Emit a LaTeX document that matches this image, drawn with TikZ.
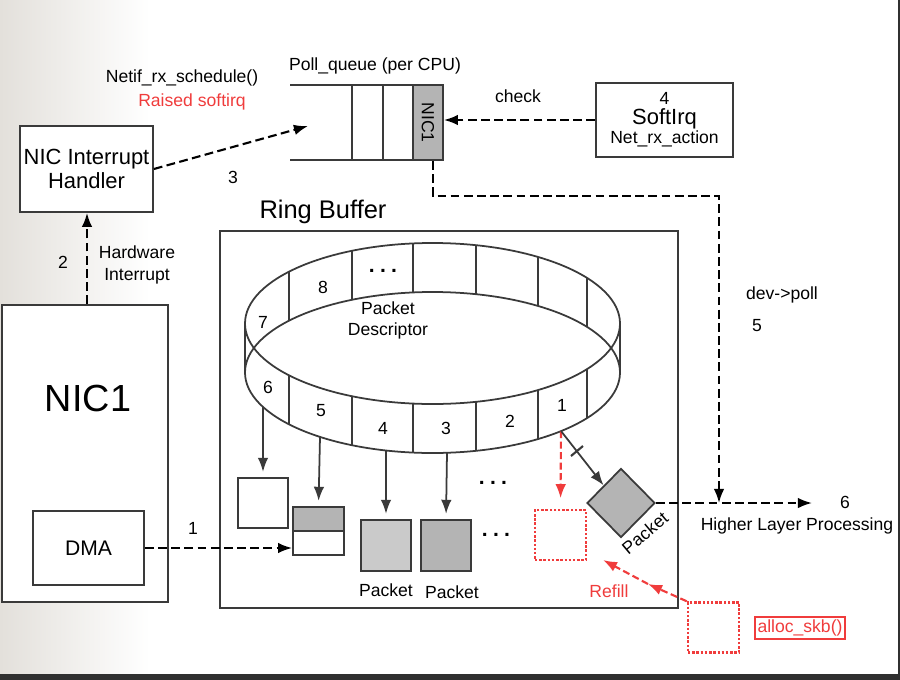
\documentclass[tikz,border=0pt]{standalone}
\usepackage{fontspec}
\setmainfont{Liberation Sans}
\usetikzlibrary{arrows.meta,shapes.geometric,positioning}
\definecolor{linegray}{HTML}{3A3A3A}
\definecolor{refillred}{HTML}{F03C3C}
\definecolor{pktgray}{HTML}{B4B4B4}
\definecolor{pktlight}{HTML}{CACACA}
\definecolor{bgside}{HTML}{E3E0DB}
\definecolor{darkstrip}{HTML}{303030}

\begin{document}
\begin{tikzpicture}
[   x=0.02cm, y=-0.02cm,
    box/.style={draw=linegray,line width=1pt,fill=white,inner sep=0pt,align=center},
    redbox/.style={draw=refillred,line width=1.4pt,densely dotted,minimum width=1.02cm,minimum height=1cm,inner sep=0pt},
    txt/.style={font=\fontsize{10}{12.5}\selectfont,inner sep=1pt,align=center},
    bigtxt/.style={font=\fontsize{12.5}{13.6}\selectfont,inner sep=1pt,align=center},
    dots/.style={font=\fontsize{12}{12}\bfseries,inner sep=0pt},
    dasharrow/.style={draw=black,line width=1.2pt,dash pattern=on 5pt off 2.5pt,-{Latex[length=8pt,width=6pt]}},
    solidarrow/.style={draw=linegray,line width=1pt,-{Latex[length=8pt,width=6pt]},shorten >=3pt},
    redarrow/.style={draw=refillred,line width=1.2pt,dash pattern=on 4pt off 2pt,-{Latex[length=8pt,width=6pt]}},
]
\useasboundingbox (0,0) rectangle (900,680);
\fill[white] (0,0) rectangle (900,680);
\shade[left color=bgside,right color=white] (0,0) rectangle (150,674);
\fill[darkstrip] (0,674) rectangle (900,680);
\fill[darkstrip] (898,0) rectangle (900,674);

\node[box, minimum width=2.66cm, minimum height=1.72cm, bigtxt] (handler) at (86.5,169) {NIC Interrupt\\Handler};
\node[box, minimum width=3.32cm, minimum height=5.94cm] (nic) at (85,453.5) {};
\node[font=\fontsize{21.5}{24}\selectfont] (nictext) at (88,398) {NIC1};
\node[box, minimum width=2.22cm, minimum height=1.48cm, font=\fontsize{12}{14}\selectfont] (dma) at (88.5,548) {DMA};
\node[box, minimum width=2.74cm, minimum height=1.48cm] (soft) at (664.5,120)
    {\fontsize{10}{12}\selectfont 4\\[-1pt]\fontsize{12.5}{14}\selectfont SoftIrq\\[-1pt]\fontsize{10}{12}\selectfont Net\_rx\_action};

\node[txt] (sched) at (182,78) {Netif\_rx\_schedule()};
\node[txt, text=refillred] (raised) at (192,102) {Raised softirq};
\node[txt] (pollq) at (375,66) {Poll\_queue (per CPU)};
\node[txt] (check) at (518,96) {check};

\draw[linegray, line width=1pt] (290,85) -- (443,85) (290,160) -- (443,160);
\foreach \qx in {352,383} {
  \draw[linegray, line width=1pt] (\qx,85) -- (\qx,160);
}
\node[box, fill=pktgray, minimum width=0.6cm, minimum height=1.5cm, font=\fontsize{10}{12}\selectfont] (nicq) at (428,122.5) {\rotatebox{-90}{NIC1}};
\coordinate (q3) at (308,126);

\draw[dasharrow] (handler.east) -- (q3);
\node[txt] (n3) at (233,177) {3};
\draw[dasharrow] (soft.west) -- (soft.west -| nicq.east);

\draw[dasharrow] (nic.north -| 87,0) -- (handler.south -| 87,0);
\node[txt] (n2) at (63,262) {2};
\node[txt] (hwint) at (137,265) {Hardware\\Interrupt};

\node[box, fill=none, minimum width=9.16cm, minimum height=7.54cm] (ring) at (449,419.5) {};
\node[font=\fontsize{14.5}{16}\selectfont] (ringlbl) at (323,212) {Ring Buffer};

\draw[linegray, line width=1pt] (432.5,323.5) ellipse [x radius=187.5, y radius=80.5];
\draw[linegray, line width=1pt] (432.5,372.5) ellipse [x radius=187.5, y radius=80.5];
\draw[linegray, line width=1pt] (245,323.5) -- (245,372.5) (620,323.5) -- (620,372.5);
\foreach \sx in {289,352,413,476,538,587} {
  \pgfmathsetmacro\dy{80.5*sqrt(1-((\sx-432.5)/187.5)^2)}
  \draw[linegray, line width=1pt] ({\sx},{323.5-\dy}) -- ({\sx},{372.5-\dy});
  \draw[linegray, line width=1pt] ({\sx},{323.5+\dy}) -- ({\sx},{372.5+\dy});
}
\node[txt] (d8) at (323,287) {8};
\node[dots] (ddots) at (383,271) {.\hspace{3pt}.\hspace{3pt}.};
\node[txt] (d7) at (263,322) {7};
\node[txt] (d6) at (268,387) {6};
\node[txt] (d5) at (321,411) {5};
\node[txt] (d4) at (383,428) {4};
\node[txt] (d3) at (446,428) {3};
\node[txt] (d2) at (510,421) {2};
\node[txt] (d1) at (562,405) {1};
\node[txt, font=\fontsize{10}{12}\selectfont] (desc) at (388,320) {Packet\\Descriptor};

\coordinate (r6) at (263,407);
\coordinate (r5) at (320,437);
\coordinate (r4) at (386,450.5);
\coordinate (r3) at (447,452.8);
\coordinate (r1) at (561,431);

\node[box, minimum width=1cm, minimum height=1cm] (buf6) at (263,503) {};
\node[box, fill=pktgray, minimum width=1.02cm, minimum height=0.48cm] (buf5top) at (318.5,519) {};
\node[box, minimum width=1.02cm, minimum height=0.48cm] (buf5bot) at (318.5,543) {};
\node[box, fill=pktlight, minimum width=1cm, minimum height=1.02cm] (pkt4) at (386,545.5) {};
\node[box, fill=pktgray, minimum width=1cm, minimum height=1.02cm] (pkt3) at (446,545.5) {};
\node[txt] (pkt4lbl) at (386,590) {Packet};
\node[txt] (pkt3lbl) at (452,592) {Packet};
\node[dots] (mdots1) at (493,483) {.\hspace{3pt}.\hspace{3pt}.};
\node[dots] (mdots2) at (496,535) {.\hspace{3pt}.\hspace{3pt}.};
\node[redbox] (empty) at (560.5,535) {};
\node[box, shape=diamond, fill=pktgray, minimum width=1.36cm, minimum height=1.38cm] (pkt1) at (621,503) {};
\node[txt, rotate=40, inner sep=0pt] (pkt1lbl) at (645,533) {Packet};

\draw[solidarrow] (r6) -- (buf6.north);
\draw[solidarrow] (r5) -- (buf5top.north);
\draw[solidarrow] (r4) -- (pkt4.north);
\draw[solidarrow] (r3) -- (pkt3.north);
\draw[redarrow, shorten >=6pt] (r1) -- (empty.north);
\draw[solidarrow, shorten >=0pt] (r1) -- (pkt1.north west);
\draw[linegray, line width=1.2pt] (571,456) -- (583,446);

\draw[dasharrow] (dma.east) -- (dma.east -| buf5bot.west);
\node[txt] (n1) at (193,528) {1};

\coordinate (hlp) at (719,503);
\coordinate (end6) at (812,503);
\draw[dasharrow] ([xshift=0.1cm]nicq.south) -- ++(0,35) -| (hlp);
\node[txt] (devpoll) at (782,295) {dev->poll};
\node[txt] (n5) at (757,326) {5};
\draw[dasharrow] (pkt1.east) -- (end6);
\node[txt] (n6) at (845,502) {6};
\node[txt] (higher) at (797,526) {Higher Layer Processing};

\node[redbox] (alloc) at (713.5,627.5) {};
\node[txt, text=refillred, draw=refillred, line width=1pt, inner sep=1.5pt] (skb) at (800,628) {alloc\_skb()};
\coordinate (refillmid) at (648,584);
\coordinate (refillend) at (603,560);
\draw[redarrow] (alloc.north west) -- (refillmid);
\draw[redarrow] (refillmid) -- (refillend);
\node[txt, text=refillred] (refill) at (609,591) {Refill};

\end{tikzpicture}
\end{document}
